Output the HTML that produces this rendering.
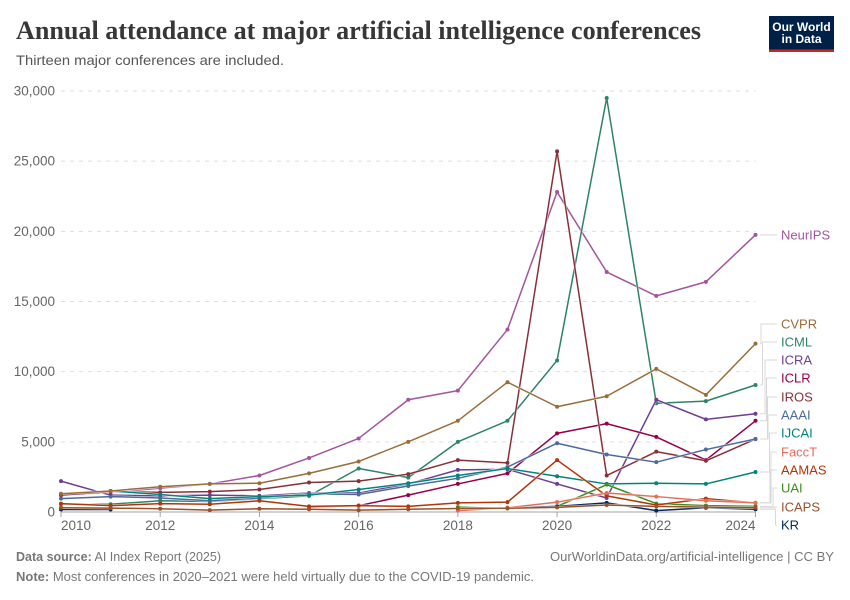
<!DOCTYPE html>
<html>
<head>
<meta charset="utf-8">
<title>Annual attendance at major artificial intelligence conferences</title>
<style>
html,body{margin:0;padding:0;background:#fff;}
svg{display:block;font-family:"Liberation Sans",sans-serif;}
</style>
</head>
<body>
<svg id="chart" width="850" height="600" viewBox="0 0 850 600" xmlns="http://www.w3.org/2000/svg">
  <text x="16" y="39" font-family="'Liberation Serif',serif" font-weight="bold" font-size="26" fill="#373737" textLength="685" lengthAdjust="spacingAndGlyphs">Annual attendance at major artificial intelligence conferences</text>
  <text x="16" y="65" font-size="14" fill="#555" textLength="268" lengthAdjust="spacingAndGlyphs">Thirteen major conferences are included.</text>
  <g>
    <rect x="769" y="16" width="65" height="36" fill="#002147"/>
    <rect x="769" y="49.5" width="65" height="2.5" fill="#ce261e"/>
    <text x="801.5" y="31" text-anchor="middle" font-size="12" font-weight="bold" fill="#fff">Our World</text>
    <text x="801.5" y="43" text-anchor="middle" font-size="12" font-weight="bold" fill="#fff">in Data</text>
  </g>
  <g id="grid"></g>
  <g id="axes"></g>
  <g id="connectors"></g>
  <g id="series"></g>
  <g id="labels"></g>
  <text x="16" y="561" font-size="13" fill="#777" textLength="205" lengthAdjust="spacingAndGlyphs"><tspan font-weight="bold">Data source:</tspan> AI Index Report (2025)</text>
  <text x="834" y="561" text-anchor="end" font-size="13" fill="#777" textLength="284" lengthAdjust="spacingAndGlyphs">OurWorldinData.org/artificial-intelligence | CC BY</text>
  <text x="16" y="581" font-size="13" fill="#777" textLength="518" lengthAdjust="spacingAndGlyphs"><tspan font-weight="bold">Note:</tspan> Most conferences in 2020–2021 were held virtually due to the COVID-19 pandemic.</text>
</svg>
<script>
const years = [2010,2011,2012,2013,2014,2015,2016,2017,2018,2019,2020,2021,2022,2023,2024];
const yTicks = [0,5000,10000,15000,20000,25000,30000];
const yTickLabels = ["0","5,000","10,000","15,000","20,000","25,000","30,000"];
const xTicks = [2010,2012,2014,2016,2018,2020,2022,2024];

const seriesNames = ["NeurIPS","CVPR","ICML","ICRA","ICLR","IROS","AAAI","IJCAI","FaccT","AAMAS","UAI","ICAPS","KR"];
const seriesColors = ["#a2559c","#996d39","#2c8465","#6d3e91","#970046","#883039","#4c6a9c","#00847e","#e56e5a","#b13507","#3b8e1d","#9a5129","#00295b"];

const neurips = [1200,1400,1700,2000,2600,3850,5240,8000,8650,13000,22800,17100,15400,16400,19750];
const cvpr    = [1300,1500,1800,2000,2050,2750,3600,5000,6500,9250,7500,8250,10200,8350,12000];
const icml    = [550,550,800,750,950,1150,3100,2450,5000,6500,10800,29500,7750,7900,9050];
const icra    = [2200,1200,1150,1200,1150,1350,1350,2000,3000,3050,2000,1000,8000,6600,7000];
const iclr    = [null,null,null,null,null,350,450,1200,2000,2750,5600,6300,5350,3700,6500];
const iros    = [1200,1450,1400,1450,1600,2100,2200,2700,3700,3500,25700,2600,4300,3650,5200];
const aaai    = [950,1100,1000,800,1000,1300,1250,1850,2400,3200,4900,4100,3550,4450,5200];
const ijcai   = [null,1500,1250,950,1100,1200,1600,2050,2600,3100,2550,2000,2050,2000,2850];
const facct   = [null,null,null,null,null,null,null,null,100,300,700,1350,1100,800,650];
const aamas   = [600,450,600,550,800,400,450,400,650,700,3700,1150,500,950,650];
const uai     = [null,null,null,null,null,null,null,null,350,250,400,1950,600,450,400];
const icaps   = [300,280,230,130,230,200,130,200,250,270,330,500,400,350,300];
const kr      = [180,180,null,null,null,null,null,null,null,300,400,650,100,300,200];
const seriesValues = [neurips,cvpr,icml,icra,iclr,iros,aaai,ijcai,facct,aamas,uai,icaps,kr];

const labelY = [235,324,342,360,378,397,415,433,452,470,488,507,525];
const elbowX = [null,761,762.5,765,766.5,767.5,768,769.5,771,770,773,774.5,775.5];
const drawOrder = [0,2,3,4,5,6,7,10,12,9,8,11,1];

const NS = "http://www.w3.org/2000/svg";
function xScale(year){ return 61 + (year - 2010) * (755.5 - 61) / 14; }
function yScale(v){ return 512 - v * 421 / 30000; }
function make(tag, attrs, parent){
  const el = document.createElementNS(NS, tag);
  for (const k in attrs) el.setAttribute(k, attrs[k]);
  parent.appendChild(el);
  return el;
}

const gridG = document.getElementById("grid");
const axesG = document.getElementById("axes");
const connG = document.getElementById("connectors");
const serG = document.getElementById("series");
const labG = document.getElementById("labels");

yTicks.forEach(function(t, i){
  if (t !== 0) {
    const g = make("line", {x1:61, x2:755.5, y1:yScale(t), y2:yScale(t), stroke:"#dddddd", "stroke-dasharray":"4 5"}, gridG);
    
    
  }
  const lab = make("text", {x:55, y:yScale(t)+4.5, "text-anchor":"end", "font-size":13.5, fill:"#666"}, axesG);
  lab.textContent = yTickLabels[i];
  
  
});

const baseline = make("line", {x1:61, x2:756, y1:yScale(0), y2:yScale(0), stroke:"#a3a3a3", "stroke-width":1}, axesG);



xTicks.forEach(function(t, i){
  const tick = make("line", {x1:xScale(t), x2:xScale(t), y1:512, y2:517, stroke:"#a3a3a3"}, axesG);
  
  
  const anchor = i === 0 ? "start" : (i === xTicks.length - 1 ? "end" : "middle");
  const lab = make("text", {x:xScale(t), y:530, "text-anchor":anchor, "font-size":13.5, fill:"#666"}, axesG);
  lab.textContent = String(t);
  
  
});

drawOrder.forEach(function(s){
  const vals = seriesValues[s];
  const color = seriesColors[s];
  let d = "";
  let pen = false;
  vals.forEach(function(v, i){
    if (v === null) { pen = false; return; }
    d += (pen ? "L" : "M") + xScale(years[i]) + " " + yScale(v);
    pen = true;
  });
  const halo = make("path", {d:d, fill:"none", stroke:"#fff", "stroke-width":2.5, "stroke-linejoin":"round", opacity:0.8}, serG);
  
  
  const line = make("path", {d:d, fill:"none", stroke:color, "stroke-width":1.5, "stroke-linejoin":"round"}, serG);
  
  
  vals.forEach(function(v, i){
    if (v === null) return;
    const c = make("circle", {cx:xScale(years[i]), cy:yScale(v), r:2, fill:color}, serG);
    
    
  });
});

seriesNames.forEach(function(name, s){
  const vals = seriesValues[s];
  const endY = yScale(vals[vals.length - 1]);
  const ly = labelY[s];
  const ex = elbowX[s];
  const cd = ex === null
    ? "M760 " + endY + "L777 " + endY
    : "M760 " + endY + "L" + ex + " " + endY + "L" + ex + " " + ly + "L777 " + ly;
  const conn = make("path", {d:cd, fill:"none", stroke:"#d8d8d8", "stroke-width":1}, connG);
  
  

  const lab = make("text", {x:781, y:ly+4.5, "font-size":13, fill:seriesColors[s]}, labG);
  lab.textContent = name;
  
  
});
</script>
</body>
</html>
